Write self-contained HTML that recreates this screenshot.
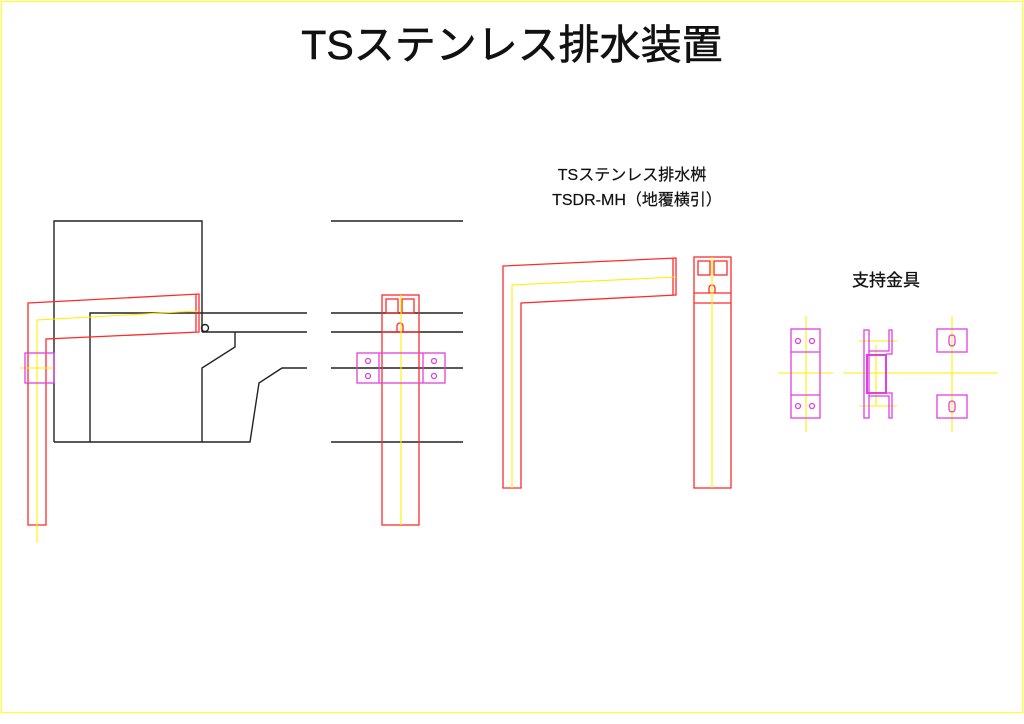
<!DOCTYPE html>
<html><head><meta charset="utf-8"><style>
body{margin:0;background:#fff}
svg{display:block}
text{font-family:"Liberation Sans","Noto Sans CJK JP",sans-serif;fill:#111}
</style></head><body>
<svg width="1024" height="724" viewBox="0 0 1024 724" xmlns="http://www.w3.org/2000/svg">
<rect x="1.5" y="1.5" width="1021" height="711" fill="none" stroke="#ffff33" stroke-width="1.2"/>
<text x="512" y="59" font-size="41" text-anchor="middle" stroke="#111" stroke-width="0.6">TSステンレス排水装置</text>
<text x="632" y="180" font-size="16" text-anchor="middle" stroke="#111" stroke-width="0.2">TSステンレス排水桝</text>
<text x="637" y="205" font-size="16" text-anchor="middle" stroke="#111" stroke-width="0.2">TSDR-MH（地覆横引）</text>
<text x="886" y="286" font-size="17" text-anchor="middle" stroke="#111" stroke-width="0.3">支持金具</text>

<g fill="none" stroke="#222" stroke-width="1.4">
<polyline points="54,442 54,221 202,221 202,332"/>
<polyline points="90,442 90,313 307,313"/>
<polyline points="202,332 307,332"/>
<polyline points="235,332 235,347 202,368 202,442"/>
<polyline points="54,442 250,442 259,383 282,368 307,368"/>
<line x1="331" y1="221" x2="463" y2="221"/>
<line x1="331" y1="313" x2="463" y2="313"/>
<line x1="331" y1="332" x2="463" y2="332"/>
<line x1="331" y1="368" x2="463" y2="368"/>
<line x1="331" y1="442" x2="463" y2="442"/>
<circle cx="205" cy="328" r="3.5"/>
</g>

<g fill="none" stroke="#ff2a2a" stroke-width="1.3">
<polygon points="28,303 199,294 199,332 46,339 46,525 28,525"/>
<line x1="196" y1="294" x2="196" y2="332"/>
<rect x="382" y="295" width="37" height="230"/>
<rect x="386" y="299" width="12" height="14"/>
<rect x="402" y="299" width="12" height="14"/>
<line x1="382" y1="332" x2="419" y2="332"/>
<path d="M397,332 V326 a3,3 0 0 1 6,0 V332"/>
<polygon points="503,266 676,258 676,295 521,303 521,488 503,488"/>
<line x1="673" y1="258" x2="673" y2="295"/>
<rect x="694" y="257" width="37" height="231"/>
<rect x="698" y="261" width="12" height="14"/>
<rect x="714" y="261" width="13" height="14"/>
<line x1="694" y1="293" x2="731" y2="293"/>
<line x1="694" y1="303" x2="731" y2="303"/>
<path d="M709,293 V288 a3,3 0 0 1 6,0 V293"/>
</g>

<g fill="none" stroke="#ffee00" stroke-width="1.1">
<polyline points="197,311 37,320 37,543"/>
<line x1="20" y1="368" x2="56" y2="368"/>
<line x1="401" y1="295" x2="401" y2="525"/>
<polyline points="676,277 512,285 512,488"/>
<line x1="712" y1="257" x2="712" y2="488"/>
<line x1="806" y1="316" x2="806" y2="432"/>
<line x1="778" y1="373" x2="833" y2="373"/>
<line x1="843" y1="373" x2="998" y2="373"/>
<line x1="952" y1="316" x2="952" y2="432"/>
<line x1="876" y1="345" x2="876" y2="405"/>
<line x1="859" y1="341" x2="897" y2="341"/>
<line x1="859" y1="406" x2="897" y2="406"/>
</g>

<g fill="none" stroke="#e040e0" stroke-width="1.3">
<rect x="25" y="353" width="29" height="30"/>
<rect x="357" y="353" width="88" height="30"/>
<line x1="379" y1="353" x2="379" y2="383"/>
<line x1="423" y1="353" x2="423" y2="383"/>
<circle cx="368" cy="361" r="2.5"/><circle cx="368" cy="376" r="2.5"/>
<circle cx="434" cy="361" r="2.5"/><circle cx="434" cy="376" r="2.5"/>
<rect x="791" y="329" width="29" height="89"/>
<line x1="791" y1="352" x2="820" y2="352"/>
<line x1="791" y1="395" x2="820" y2="395"/>
<circle cx="798" cy="341" r="2.5"/><circle cx="812" cy="341" r="2.5"/>
<circle cx="798" cy="406" r="2.5"/><circle cx="812" cy="406" r="2.5"/>
<rect x="864" y="330" width="5" height="88"/>
<polyline points="869,351 889,351 889,330 892,330 892,354 886,354"/>
<polyline points="869,396 889,396 889,418 892,418 892,393 886,393"/>
<rect x="867" y="355" width="19" height="38" stroke-width="2"/>
<rect x="937" y="329" width="30" height="23"/>
<rect x="937" y="395" width="30" height="23"/>
<rect x="949" y="335" width="6" height="11" rx="3"/>
<rect x="949" y="401" width="6" height="11" rx="3"/>
</g>
</svg>
</body></html>
